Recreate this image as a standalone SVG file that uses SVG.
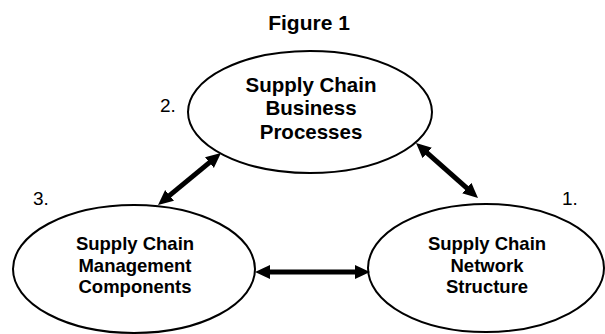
<svg xmlns="http://www.w3.org/2000/svg" width="605" height="334" viewBox="0 0 605 334">
<style>
.node{fill:#fff;stroke:#000;stroke-width:2}
.lbl{font-family:"Liberation Sans",Arial,sans-serif;font-weight:bold;text-anchor:middle;fill:#000}
.num{font-family:"Liberation Sans",Arial,sans-serif;font-size:19px;fill:#000}
.conn{stroke:#000;stroke-width:5;fill:none;marker-start:url(#ah);marker-end:url(#ah)}
</style>
<defs>
<marker id="ah" markerUnits="userSpaceOnUse" markerWidth="16" markerHeight="15" refX="7" refY="7" orient="auto-start-reverse" viewBox="0 0 16 15">
<path d="M0,0 L15,7 L0,14 z" fill="#000"/>
</marker>
</defs>
<rect width="605" height="334" fill="#fff"/>
<text class="lbl" x="309" y="30" font-size="21">Figure 1</text>
<g id="node-business">
<ellipse class="node" cx="310" cy="112" rx="122" ry="61"/>
<text class="lbl" font-size="20.5"><tspan x="311" y="92">Supply Chain</tspan><tspan x="311" y="115">Business</tspan><tspan x="311" y="139">Processes</tspan></text>
<text class="num" x="160" y="112">2.</text>
</g>
<g id="node-management">
<ellipse class="node" cx="134" cy="269" rx="121" ry="64"/>
<text class="lbl" font-size="18.5"><tspan x="135" y="250">Supply Chain</tspan><tspan x="135" y="272">Management</tspan><tspan x="135" y="293">Components</tspan></text>
<text class="num" x="33" y="205">3.</text>
</g>
<g id="node-network">
<ellipse class="node" cx="486" cy="268" rx="118" ry="64"/>
<text class="lbl" font-size="18.5"><tspan x="487" y="250">Supply Chain</tspan><tspan x="487" y="272">Network</tspan><tspan x="487" y="293">Structure</tspan></text>
<text class="num" x="562" y="205">1.</text>
</g>
<g id="connectors">
<line class="conn" x1="164.2" y1="199.9" x2="214.8" y2="158.1"/>
<line class="conn" x1="422" y1="148.3" x2="472" y2="192.7"/>
<line class="conn" x1="263" y1="272" x2="362" y2="272"/>
</g>
</svg>
